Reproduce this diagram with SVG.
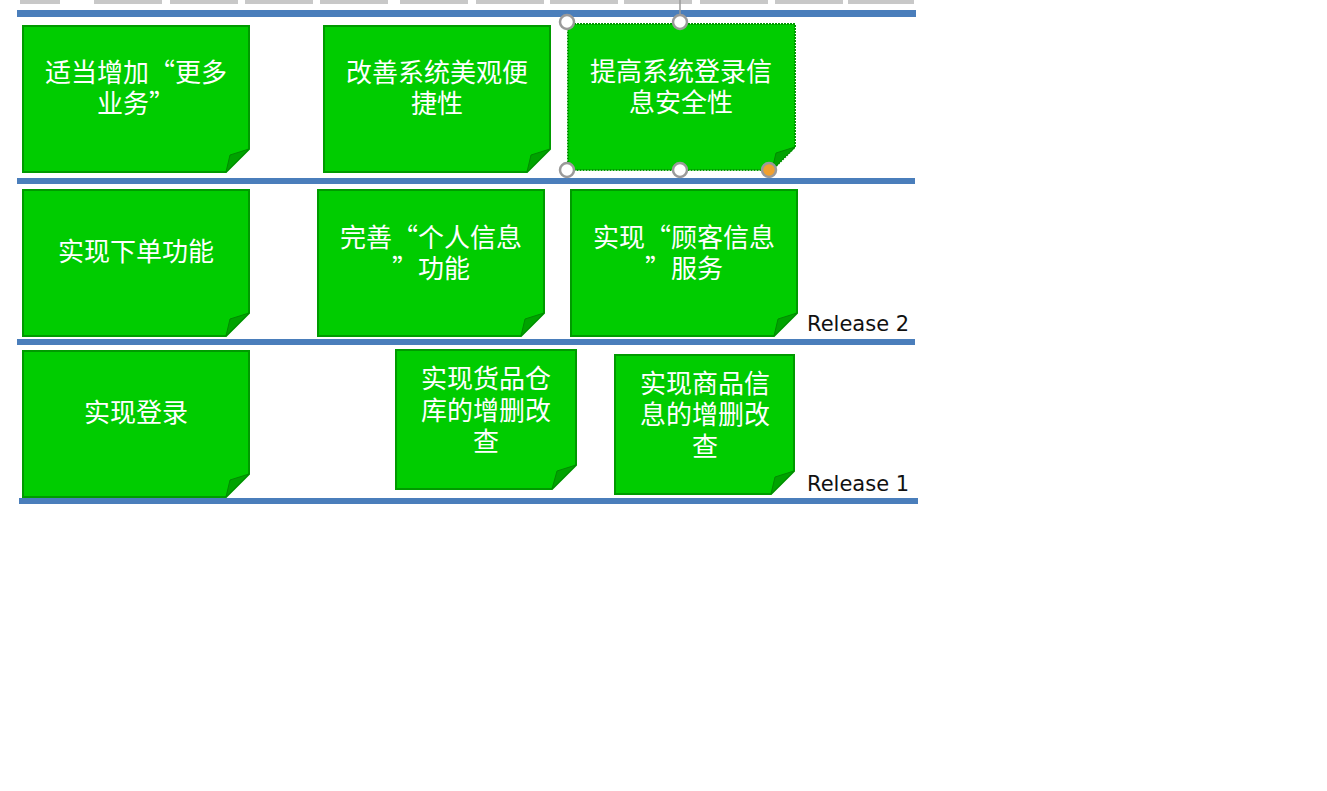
<svg xmlns="http://www.w3.org/2000/svg" width="1327" height="791" viewBox="0 0 1327 791">
<style>
.shelf{fill:#4a7ebb}
.note{fill:#00cc00;stroke:#009a00;stroke-width:2}
.fold{fill:#00a300;stroke:#008a00;stroke-width:1}
.t{font-family:"Noto Sans CJK SC","Noto Sans",sans-serif;font-size:26px;fill:#ffffff;text-anchor:middle}
.rel{font-family:"DejaVu Sans",sans-serif;font-size:21px;fill:#111}
.h{fill:#fff;stroke:#9a9a9a;stroke-width:2.5}
.top{fill:#c8c8c8}
</style>
<rect width="1327" height="791" fill="#ffffff"/>
<g id="topstrip">
<rect class="top" x="20" y="0" width="40" height="4"/>
<rect class="top" x="94" y="0" width="68" height="4"/>
<rect class="top" x="170" y="0" width="68" height="4"/>
<rect class="top" x="245" y="0" width="68" height="4"/>
<rect class="top" x="320" y="0" width="68" height="4"/>
<rect class="top" x="400" y="0" width="68" height="4"/>
<rect class="top" x="476" y="0" width="68" height="4"/>
<rect class="top" x="550" y="0" width="68" height="4"/>
<rect class="top" x="624" y="0" width="68" height="4"/>
<rect class="top" x="700" y="0" width="68" height="4"/>
<rect class="top" x="775" y="0" width="68" height="4"/>
<rect class="top" x="848" y="0" width="66" height="4"/>
</g>
<g id="shelves">
<rect class="shelf" x="17" y="10" width="899" height="7"/>
<rect class="shelf" x="17" y="178" width="898" height="6"/>
<rect class="shelf" x="17" y="339" width="898" height="6"/>
<rect class="shelf" x="19" y="498" width="899" height="6"/>
</g>
<g id="n1">
<path class="note" d="M23 26H249V149L226 172H23Z"/>
<path class="fold" d="M249 149L230 155L226 172Z"/>
<text class="t" x="136" y="82">适当增加“更多<tspan x="136" dy="31">业务”</tspan></text>
</g>
<g id="n2">
<path class="note" d="M324 26H550V149L527 172H324Z"/>
<path class="fold" d="M550 149L531 155L527 172Z"/>
<text class="t" x="437" y="82">改善系统美观便<tspan x="437" dy="31">捷性</tspan></text>
</g>
<g id="n3">
<path class="note" d="M568 24H795V147L772 170H568Z" stroke-dasharray="2 1"/>
<path class="fold" d="M795 147L776 153L772 170Z"/>
<text class="t" x="681" y="81">提高系统登录信<tspan x="681" dy="31">息安全性</tspan></text>
</g>
<g id="n4">
<path class="note" d="M23 190H249V313L226 336H23Z"/>
<path class="fold" d="M249 313L230 319L226 336Z"/>
<text class="t" x="136" y="261">实现下单功能</text>
</g>
<g id="n5">
<path class="note" d="M318 190H544V313L521 336H318Z"/>
<path class="fold" d="M544 313L525 319L521 336Z"/>
<text class="t" x="431" y="247">完善“个人信息<tspan x="431" dy="31">”功能</tspan></text>
</g>
<g id="n6">
<path class="note" d="M571 190H797V313L774 336H571Z"/>
<path class="fold" d="M797 313L778 319L774 336Z"/>
<text class="t" x="684" y="247">实现“顾客信息<tspan x="684" dy="31">”服务</tspan></text>
</g>
<g id="n7">
<path class="note" d="M23 351H249V474L226 497H23Z"/>
<path class="fold" d="M249 474L230 480L226 497Z"/>
<text class="t" x="136" y="422">实现登录</text>
</g>
<g id="n8">
<path class="note" d="M396 350H576V465L552 489H396Z"/>
<path class="fold" d="M576 465L557 471L552 489Z"/>
<text class="t" x="486" y="388">实现货品仓<tspan x="486" dy="32">库的增删改</tspan><tspan x="486" dy="31">查</tspan></text>
</g>
<g id="n9">
<path class="note" d="M615 355H794V471L771 494H615Z"/>
<path class="fold" d="M794 471L775 477L771 494Z"/>
<text class="t" x="705" y="393">实现商品信<tspan x="705" dy="31">息的增删改</tspan><tspan x="705" dy="32">查</tspan></text>
</g>
<g id="labels">
<text class="rel" x="807" y="331">Release 2</text>
<text class="rel" x="807" y="491">Release 1</text>
</g>
<g id="selection">
<line x1="680" y1="0" x2="680" y2="16" stroke="#9a9a9a" stroke-width="1.5"/>
<circle class="h" cx="567" cy="22" r="7"/>
<circle class="h" cx="680" cy="22" r="7"/>
<circle class="h" cx="567" cy="170" r="7"/>
<circle class="h" cx="680" cy="170" r="7"/>
<circle cx="769" cy="170" r="7" fill="#f0a030" stroke="#9a9a9a" stroke-width="2.5"/>
</g>
</svg>
